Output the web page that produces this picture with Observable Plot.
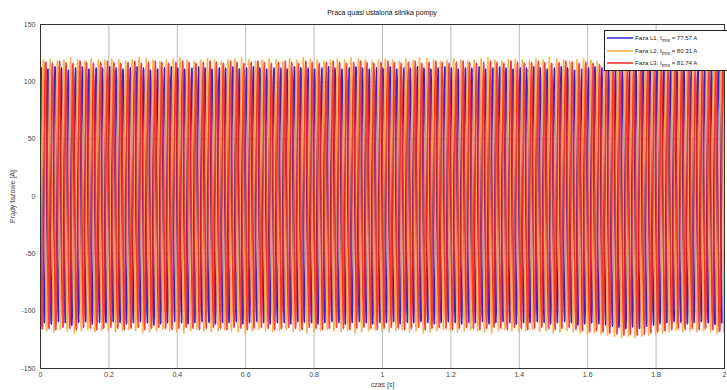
<!DOCTYPE html>
<html><head><meta charset="utf-8">
<script src="https://cdn.jsdelivr.net/npm/d3@7"></script>
<script src="https://cdn.jsdelivr.net/npm/@observablehq/plot@0.6"></script>
<style>
body{margin:0;background:#fff;font-family:"Liberation Sans",Arial,sans-serif}
#wrap{position:relative;width:727px;height:390px;overflow:hidden;background:#fff}
#title{position:absolute;top:9px;left:40px;width:684px;text-align:center;font-size:7px;color:#111}
#legend{position:absolute;left:604px;top:30px;width:124px;height:41px;border:1px solid #222;background:#fff;font-size:6px;color:#222;box-sizing:border-box}
.row{position:absolute;left:2px;height:8px;line-height:8px;white-space:nowrap}
.row svg{vertical-align:middle;margin-right:2px}
sub{font-size:5px;vertical-align:-2px}
</style>
</head><body>
<div id="wrap">
<div id="title">Praca quasi ustalona silnika pompy</div>
<div id="chart"></div>
<div id="legend"></div>
</div>
<script>
// series names and legend text
const series = ["Faza L1", "Faza L2", "Faza L3"];
const rms = ["77.57", "80.31", "81.74"];
const colors = ["#3424d0", "#ffab45", "#ec2226"];
// time of first positive peak for each phase [s], 50 Hz
const firstPeak = [0.002, 0.0087, 0.0153];
const halfPeriod = 0.01;
// positive and negative peak values for each of the 100 cycles [A]
const L1pos = [112,111,113,112,110,112,113,111,112,112,113,112,111,112,113,112,110,111,112,113,112,111,112,113,112,111,112,112,113,111,112,113,112,111,112,112,111,113,112,112,111,112,113,112,111,112,113,112,111,112,112,113,111,112,112,113,112,111,112,113,112,111,112,112,113,111,112,113,112,111,112,112,113,112,111,112,113,112,110,111,112,113,112,111,110,111,112,112,113,112,111,112,113,112,111,112,113,112,111,112];
const L1neg = [-110,-111,-109,-110,-112,-110,-109,-111,-110,-110,-109,-110,-111,-110,-109,-110,-112,-111,-110,-109,-110,-111,-110,-109,-110,-111,-110,-110,-109,-111,-110,-109,-110,-111,-110,-110,-111,-109,-110,-110,-111,-110,-109,-110,-111,-110,-109,-110,-111,-110,-110,-109,-111,-110,-110,-109,-110,-111,-110,-109,-110,-111,-110,-110,-109,-111,-110,-109,-110,-111,-110,-110,-109,-110,-111,-110,-109,-110,-112,-111,-110,-111,-112,-113,-114,-115,-114,-115,-113,-112,-111,-110,-109,-110,-111,-110,-109,-110,-111,-110];
const L2pos = [119,120,118,119,121,119,118,120,119,119,120,119,118,119,121,120,119,118,119,120,121,119,118,119,120,119,118,119,120,121,119,118,119,120,119,118,120,119,121,120,119,118,119,120,119,121,120,119,118,119,120,119,118,120,119,121,120,119,118,119,120,119,118,119,120,121,119,118,119,120,119,118,120,119,121,120,119,118,119,120,119,118,117,118,119,118,117,118,119,120,119,118,120,119,121,120,119,118,119,120];
const L2neg = [-117,-118,-116,-117,-119,-117,-116,-118,-117,-117,-118,-117,-116,-117,-119,-118,-117,-116,-117,-118,-119,-117,-116,-117,-118,-117,-116,-117,-118,-119,-117,-116,-117,-118,-117,-116,-118,-117,-119,-118,-117,-116,-117,-118,-117,-119,-118,-117,-116,-117,-118,-117,-116,-118,-117,-119,-118,-117,-116,-117,-118,-117,-116,-117,-118,-119,-117,-116,-117,-118,-117,-116,-118,-117,-119,-118,-117,-118,-119,-120,-119,-120,-121,-122,-123,-122,-123,-122,-121,-120,-119,-118,-117,-118,-117,-118,-117,-118,-119,-118];
const L3pos = [117,116,118,117,116,118,117,116,117,118,117,116,117,118,116,117,118,117,116,117,118,117,116,117,118,117,116,118,117,116,117,118,117,116,117,118,117,116,118,117,116,117,118,117,116,117,118,117,116,117,118,117,116,117,118,116,117,118,117,116,117,118,117,116,117,118,117,116,118,117,116,117,118,117,116,117,118,117,116,117,116,115,116,117,116,115,116,117,116,117,118,117,116,117,118,117,116,117,118,117];
const L3neg = [-115,-116,-114,-115,-116,-114,-115,-116,-115,-114,-115,-116,-115,-114,-116,-115,-114,-115,-116,-115,-114,-115,-116,-115,-114,-115,-116,-114,-115,-116,-115,-114,-115,-116,-115,-114,-115,-116,-114,-115,-116,-115,-114,-115,-116,-115,-114,-115,-116,-115,-114,-115,-116,-115,-114,-116,-115,-114,-115,-116,-115,-114,-115,-116,-115,-114,-115,-116,-114,-115,-116,-115,-114,-115,-116,-115,-114,-116,-117,-118,-117,-118,-119,-120,-121,-120,-121,-120,-119,-118,-117,-116,-115,-116,-115,-116,-115,-116,-117,-116];
const xTicks = [0,0.2,0.4,0.6,0.8,1,1.2,1.4,1.6,1.8,2];
const yTicks = [-150,-100,-50,0,50,100,150];

const peaks = [[L1pos, L1neg], [L2pos, L2neg], [L3pos, L3neg]];
const data = [];
series.forEach((name, i) => {
  const [pos, neg] = peaks[i];
  data.push({name, t: firstPeak[i] - 3 * halfPeriod, v: neg[0]});
  data.push({name, t: firstPeak[i] - 2 * halfPeriod, v: pos[0]});
  data.push({name, t: firstPeak[i] - halfPeriod, v: neg[0]});
  pos.forEach((p, k) => {
    data.push({name, t: firstPeak[i] + 2 * k * halfPeriod, v: p});
    data.push({name, t: firstPeak[i] + (2 * k + 1) * halfPeriod, v: neg[k]});
  });
});

const opac = [1, 0.9, 0.85];
const chart = Plot.plot({
  width: 727, height: 390,
  marginLeft: 40, marginRight: 3, marginTop: 24, marginBottom: 22,
  style: {fontFamily: '"Liberation Sans", Arial, sans-serif', fontSize: "7px", color: "#444", background: "#fff"},
  x: {domain: [0, 2], ticks: xTicks, tickFormat: d => String(d), tickSize: 0, tickPadding: 4,
      label: "czas [s]", labelAnchor: "center", labelArrow: "none", labelOffset: 18},
  y: {domain: [-150, 150], ticks: yTicks, tickFormat: d => String(d), tickSize: 0, tickPadding: 5,
      label: "Prądy fazowe [A]", labelAnchor: "center", labelArrow: "none", labelOffset: 30},
  color: {domain: series, range: colors},
  marks: [
    Plot.gridX(xTicks, {stroke: "#bbb", strokeOpacity: 1}),
    Plot.gridY(yTicks, {stroke: "#bbb", strokeOpacity: 1}),
    ...series.map((s, i) => Plot.line(data.filter(d => d.name === s),
      {x: "t", y: "v", stroke: "name", strokeWidth: 1.9, strokeOpacity: opac[i], curve: "natural", clip: true})),
    Plot.frame({stroke: "#333", strokeWidth: 1})
  ]
});
document.getElementById("chart").appendChild(chart);

const legend = document.getElementById("legend");
series.forEach((s, i) => {
  const row = document.createElement("div");
  row.className = "row";
  row.style.top = (3 + i * 12.5) + "px";
  row.innerHTML = `<svg width="26" height="4"><line x1="0" y1="2" x2="26" y2="2" stroke="${colors[i]}" stroke-width="1.5"/></svg>${s}, I<sub>rms</sub> = ${rms[i]} A`;
  legend.appendChild(row);
});
</script>
</body></html>
